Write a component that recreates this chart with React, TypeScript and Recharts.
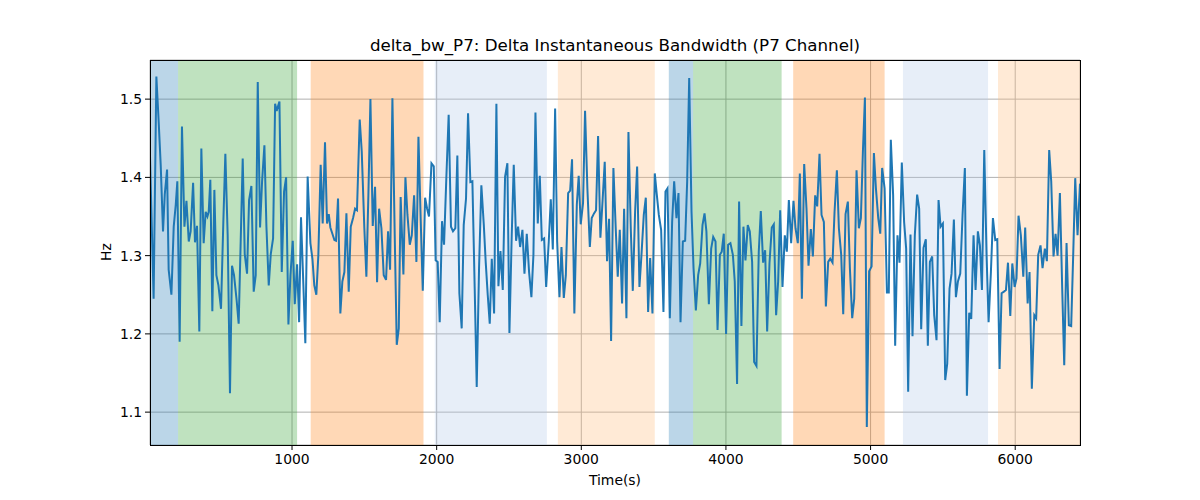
import { CartesianGrid, Line, LineChart, ReferenceArea, XAxis, YAxis } from 'recharts'

// sample times (s)
const times = [
  18, 43, 62, 78, 92, 108, 120, 136, 147, 166, 182, 196, 207, 223, 239, 256, 270, 286, 299, 316,
  329, 343, 359, 373, 389, 403, 415, 424, 435, 449, 463, 477, 491, 509, 525, 539, 555, 571, 585, 599,
  617, 631, 645, 659, 673, 689, 703, 719, 735, 749, 763, 779, 793, 809, 823, 839, 853, 869, 883, 894,
  903, 913, 929, 945, 959, 975, 989, 1005, 1019, 1035, 1049, 1062, 1077, 1092, 1108, 1127, 1141, 1154, 1168, 1182,
  1198, 1212, 1228, 1242, 1254, 1265, 1279, 1293, 1304, 1318, 1334, 1348, 1362, 1376, 1392, 1406, 1422, 1436, 1449, 1468,
  1482, 1500, 1514, 1528, 1542, 1558, 1574, 1588, 1602, 1618, 1634, 1650, 1664, 1678, 1694, 1710, 1724, 1738, 1751, 1770,
  1784, 1798, 1814, 1828, 1844, 1860, 1874, 1890, 1904, 1920, 1934, 1947, 1964, 1980, 1993, 2007, 2021, 2037, 2051, 2067,
  2083, 2099, 2113, 2129, 2143, 2157, 2173, 2187, 2203, 2217, 2233, 2247, 2263, 2277, 2293, 2309, 2326, 2339, 2353, 2367,
  2381, 2397, 2413, 2427, 2441, 2457, 2473, 2489, 2503, 2519, 2533, 2549, 2563, 2577, 2593, 2607, 2623, 2639, 2655, 2669,
  2683, 2699, 2713, 2727, 2743, 2757, 2775, 2789, 2803, 2819, 2833, 2849, 2863, 2879, 2893, 2909, 2923, 2936, 2952, 2969,
  2982, 2996, 3012, 3026, 3042, 3059, 3072, 3088, 3102, 3116, 3132, 3147, 3162, 3178, 3192, 3206, 3222, 3238, 3252, 3266,
  3282, 3296, 3312, 3326, 3342, 3356, 3372, 3386, 3402, 3416, 3432, 3446, 3462, 3476, 3492, 3508, 3522, 3536, 3552, 3568,
  3582, 3596, 3612, 3628, 3642, 3658, 3672, 3686, 3702, 3718, 3732, 3746, 3762, 3776, 3792, 3808, 3822, 3838, 3852, 3865,
  3882, 3898, 3912, 3928, 3942, 3958, 3971, 3985, 4001, 4015, 4031, 4048, 4061, 4077, 4091, 4107, 4121, 4135, 4151, 4165,
  4181, 4195, 4211, 4227, 4241, 4257, 4271, 4285, 4301, 4317, 4331, 4347, 4361, 4375, 4391, 4407, 4421, 4435, 4451, 4467,
  4481, 4497, 4511, 4525, 4541, 4557, 4571, 4587, 4601, 4617, 4631, 4647, 4661, 4677, 4691, 4707, 4721, 4737, 4751, 4767,
  4781, 4797, 4811, 4827, 4843, 4857, 4873, 4887, 4903, 4919, 4933, 4947, 4961, 4974, 4990, 5007, 5023, 5037, 5053, 5067,
  5080, 5097, 5113, 5126, 5140, 5156, 5170, 5186, 5200, 5216, 5232, 5246, 5260, 5276, 5290, 5306, 5322, 5336, 5350, 5366,
  5382, 5396, 5410, 5426, 5440, 5456, 5470, 5484, 5500, 5516, 5530, 5546, 5560, 5576, 5590, 5604, 5620, 5636, 5652, 5666,
  5682, 5696, 5712, 5726, 5742, 5756, 5770, 5786, 5802, 5816, 5832, 5846, 5862, 5876, 5892, 5906, 5922, 5936, 5950, 5966,
  5980, 5996, 6009, 6023, 6039, 6056, 6069, 6086, 6099, 6115, 6132, 6145, 6159, 6175, 6189, 6205, 6219, 6235, 6249, 6265,
  6279, 6293, 6309, 6325, 6339, 6355, 6371, 6387, 6401, 6415, 6431, 6448,
]

// delta bandwidth (Hz)
const deltaBw = [
  1.427, 1.245, 1.529, 1.471, 1.416, 1.331, 1.378, 1.41, 1.282, 1.25, 1.337, 1.365, 1.395, 1.19, 1.465, 1.337, 1.37, 1.318, 1.331, 1.393,
  1.317, 1.338, 1.203, 1.437, 1.316, 1.356, 1.35, 1.356, 1.397, 1.229, 1.384, 1.275, 1.262, 1.232, 1.343, 1.43, 1.326, 1.124, 1.287, 1.275,
  1.243, 1.213, 1.318, 1.424, 1.302, 1.277, 1.371, 1.389, 1.254, 1.275, 1.522, 1.336, 1.395, 1.441, 1.337, 1.262, 1.302, 1.322, 1.494, 1.485,
  1.491, 1.497, 1.279, 1.382, 1.4, 1.212, 1.275, 1.319, 1.238, 1.289, 1.215, 1.349, 1.27, 1.188, 1.401, 1.316, 1.296, 1.262, 1.25, 1.301,
  1.416, 1.341, 1.445, 1.341, 1.353, 1.336, 1.328, 1.32, 1.319, 1.373, 1.226, 1.267, 1.279, 1.354, 1.254, 1.337, 1.348, 1.36, 1.358, 1.474,
  1.433, 1.335, 1.273, 1.378, 1.5, 1.338, 1.388, 1.266, 1.36, 1.335, 1.275, 1.269, 1.331, 1.282, 1.501, 1.326, 1.186, 1.207, 1.375, 1.276,
  1.4, 1.352, 1.314, 1.326, 1.377, 1.292, 1.452, 1.343, 1.255, 1.374, 1.36, 1.35, 1.418, 1.414, 1.294, 1.292, 1.215, 1.344, 1.314, 1.4,
  1.48, 1.337, 1.331, 1.335, 1.428, 1.252, 1.207, 1.339, 1.373, 1.482, 1.394, 1.395, 1.258, 1.132, 1.284, 1.39, 1.339, 1.292, 1.25, 1.213,
  1.296, 1.226, 1.494, 1.261, 1.306, 1.256, 1.401, 1.418, 1.201, 1.326, 1.416, 1.319, 1.337, 1.311, 1.333, 1.277, 1.328, 1.279, 1.247, 1.301,
  1.483, 1.341, 1.402, 1.32, 1.322, 1.26, 1.318, 1.372, 1.308, 1.488, 1.318, 1.247, 1.311, 1.246, 1.275, 1.38, 1.383, 1.423, 1.226, 1.365,
  1.402, 1.34, 1.367, 1.485, 1.386, 1.311, 1.348, 1.354, 1.358, 1.453, 1.323, 1.37, 1.42, 1.293, 1.347, 1.191, 1.412, 1.335, 1.273, 1.333,
  1.239, 1.36, 1.22, 1.458, 1.335, 1.255, 1.356, 1.414, 1.26, 1.301, 1.352, 1.374, 1.228, 1.297, 1.226, 1.405, 1.378, 1.352, 1.333, 1.228,
  1.382, 1.386, 1.22, 1.343, 1.395, 1.348, 1.38, 1.215, 1.318, 1.319, 1.395, 1.527, 1.356, 1.284, 1.23, 1.275, 1.29, 1.339, 1.354, 1.331,
  1.238, 1.309, 1.324, 1.318, 1.205, 1.301, 1.305, 1.328, 1.2, 1.314, 1.316, 1.301, 1.267, 1.136, 1.369, 1.21, 1.337, 1.294, 1.339, 1.331,
  1.292, 1.164, 1.159, 1.305, 1.357, 1.291, 1.307, 1.203, 1.29, 1.336, 1.34, 1.224, 1.267, 1.358, 1.26, 1.326, 1.305, 1.371, 1.316, 1.37,
  1.335, 1.316, 1.405, 1.245, 1.417, 1.36, 1.287, 1.334, 1.299, 1.377, 1.363, 1.43, 1.352, 1.343, 1.235, 1.292, 1.296, 1.291, 1.356, 1.409,
  1.335, 1.301, 1.225, 1.353, 1.369, 1.284, 1.22, 1.245, 1.409, 1.335, 1.348, 1.433, 1.502, 1.081, 1.28, 1.286, 1.431, 1.386, 1.348, 1.328,
  1.412, 1.386, 1.253, 1.253, 1.448, 1.377, 1.185, 1.326, 1.291, 1.419, 1.343, 1.309, 1.126, 1.327, 1.197, 1.326, 1.378, 1.36, 1.206, 1.31,
  1.321, 1.185, 1.292, 1.299, 1.224, 1.192, 1.371, 1.337, 1.341, 1.141, 1.162, 1.258, 1.277, 1.346, 1.247, 1.267, 1.277, 1.352, 1.412, 1.121,
  1.227, 1.219, 1.326, 1.256, 1.331, 1.313, 1.256, 1.435, 1.301, 1.215, 1.279, 1.348, 1.32, 1.321, 1.155, 1.252, 1.254, 1.256, 1.291, 1.223,
  1.29, 1.26, 1.271, 1.351, 1.326, 1.273, 1.336, 1.239, 1.279, 1.13, 1.224, 1.22, 1.301, 1.313, 1.284, 1.309, 1.293, 1.435, 1.395, 1.299,
  1.328, 1.3, 1.38, 1.258, 1.16, 1.316, 1.211, 1.21, 1.301, 1.399, 1.326, 1.392,
]

// shaded phases
const bandStart = [18, 212, 1129, 1987, 2838, 3605, 3773, 4465, 5224, 5881]
const bandEnd = [212, 1035, 1909, 2762, 3508, 3773, 4385, 5097, 5812, 6448]
const bandKind = ['blue', 'green', 'orange', 'paleBlue', 'paleOrange', 'blue', 'green', 'orange', 'paleBlue', 'paleOrange']

const xTicks = [1000, 2000, 3000, 4000, 5000, 6000]
const yTicks = [1.1, 1.2, 1.3, 1.4, 1.5]

const BAND_STYLE: Record<string, { fill: string; opacity: number }> = {
  blue: { fill: '#1f77b4', opacity: 0.3 },
  green: { fill: '#2ca02c', opacity: 0.3 },
  orange: { fill: '#ff7f0e', opacity: 0.3 },
  paleBlue: { fill: '#aec7e8', opacity: 0.3 },
  paleOrange: { fill: '#ffbb78', opacity: 0.3 },
}

const FONT = '"DejaVu Sans", sans-serif'

const data = times.map((t, i) => ({ t, v: deltaBw[i] }))

export default function App() {
  return (
    <div style={{ position: 'absolute', left: 0, top: 0, width: 1200, height: 500, background: '#fff', fontFamily: FONT }}>
      <div
        style={{
          position: 'absolute',
          left: 150,
          width: 930,
          top: 35,
          textAlign: 'center',
          fontSize: 16.7,
          lineHeight: '20px',
          color: '#000',
        }}
      >
        delta_bw_P7: Delta Instantaneous Bandwidth (P7 Channel)
      </div>
      <LineChart width={1200} height={500} data={data} margin={{ top: 60, right: 120, bottom: 0, left: 0 }}>
        {bandStart.map((s, i) => (
          <ReferenceArea
            key={i}
            x1={s}
            x2={bandEnd[i]}
            fill={BAND_STYLE[bandKind[i]].fill}
            fillOpacity={BAND_STYLE[bandKind[i]].opacity}
            stroke="none"
            ifOverflow="hidden"
          />
        ))}
        <CartesianGrid stroke="#b0b0b0" strokeWidth={1} />
        <XAxis
          type="number"
          dataKey="t"
          domain={[18, 6448]}
          ticks={xTicks}
          allowDataOverflow
          height={55}
          axisLine={false}
          tickLine={{ stroke: '#000' }}
          tickSize={5}
          tickMargin={4}
          tick={{ fontSize: 13.9, fill: '#000', fontFamily: FONT }}
        />
        <YAxis
          type="number"
          domain={[1.058, 1.55]}
          ticks={yTicks}
          allowDataOverflow
          width={150}
          axisLine={false}
          tickLine={{ stroke: '#000' }}
          tickSize={5}
          tickMargin={3}
          tickFormatter={(v: number) => v.toFixed(1)}
          tick={{ fontSize: 13.9, fill: '#000', fontFamily: FONT }}
        />
        <Line type="linear" dataKey="v" stroke="#1f77b4" strokeWidth={2} dot={false} isAnimationActive={false} />
      </LineChart>
      <div
        style={{
          position: 'absolute',
          left: 150,
          top: 60,
          width: 931,
          height: 386,
          boxSizing: 'border-box',
          border: '1px solid #000',
          pointerEvents: 'none',
        }}
      />
      <div
        style={{
          position: 'absolute',
          left: 150,
          width: 930,
          top: 472,
          textAlign: 'center',
          fontSize: 13.9,
          lineHeight: '17px',
        }}
      >
        Time(s)
      </div>
      <div
        style={{
          position: 'absolute',
          left: 106,
          top: 252,
          fontSize: 13.9,
          transform: 'translate(-50%, -50%) rotate(-90deg)',
        }}
      >
        Hz
      </div>
    </div>
  )
}
